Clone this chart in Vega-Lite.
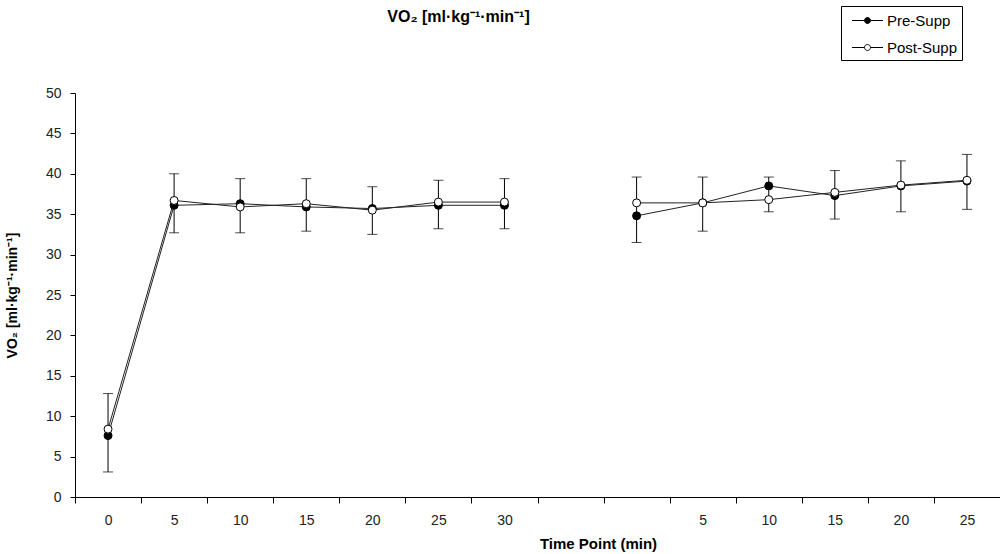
{
  "$schema": "https://vega.github.io/schema/vega-lite/v6.json",
  "width": 925,
  "height": 404,
  "autosize": {"type": "none"},
  "padding": {"left": 75, "top": 93, "right": 0, "bottom": 57},
  "background": "white",
  "config": {"view": {"stroke": null}, "font": "Liberation Sans"},
  "title": {
    "text": "VO₂ [ml·kg⁻¹·min⁻¹]",
    "font": "Liberation Sans",
    "fontSize": 16,
    "fontWeight": "bold",
    "color": "black",
    "anchor": "middle",
    "frame": "group",
    "dx": -79,
    "dy": 19,
    "offset": 0
  },
  "datasets": {
    "means": [
      {"series": "Pre-Supp", "idx": 0, "seg": 0, "v": 7.6},
      {"series": "Pre-Supp", "idx": 1, "seg": 0, "v": 36.1},
      {"series": "Pre-Supp", "idx": 2, "seg": 0, "v": 36.3},
      {"series": "Pre-Supp", "idx": 3, "seg": 0, "v": 35.9},
      {"series": "Pre-Supp", "idx": 4, "seg": 0, "v": 35.7},
      {"series": "Pre-Supp", "idx": 5, "seg": 0, "v": 36.1},
      {"series": "Pre-Supp", "idx": 6, "seg": 0, "v": 36.1},
      {"series": "Pre-Supp", "idx": 8, "seg": 1, "v": 34.8},
      {"series": "Pre-Supp", "idx": 9, "seg": 1, "v": 36.4},
      {"series": "Pre-Supp", "idx": 10, "seg": 1, "v": 38.5},
      {"series": "Pre-Supp", "idx": 11, "seg": 1, "v": 37.3},
      {"series": "Pre-Supp", "idx": 12, "seg": 1, "v": 38.5},
      {"series": "Pre-Supp", "idx": 13, "seg": 1, "v": 39.1},
      {"series": "Post-Supp", "idx": 0, "seg": 0, "v": 8.4},
      {"series": "Post-Supp", "idx": 1, "seg": 0, "v": 36.7},
      {"series": "Post-Supp", "idx": 2, "seg": 0, "v": 35.9},
      {"series": "Post-Supp", "idx": 3, "seg": 0, "v": 36.3},
      {"series": "Post-Supp", "idx": 4, "seg": 0, "v": 35.5},
      {"series": "Post-Supp", "idx": 5, "seg": 0, "v": 36.5},
      {"series": "Post-Supp", "idx": 6, "seg": 0, "v": 36.5},
      {"series": "Post-Supp", "idx": 8, "seg": 1, "v": 36.4},
      {"series": "Post-Supp", "idx": 9, "seg": 1, "v": 36.4},
      {"series": "Post-Supp", "idx": 10, "seg": 1, "v": 36.8},
      {"series": "Post-Supp", "idx": 11, "seg": 1, "v": 37.7},
      {"series": "Post-Supp", "idx": 12, "seg": 1, "v": 38.6},
      {"series": "Post-Supp", "idx": 13, "seg": 1, "v": 39.2}
    ],
    "err": [
      {"idx": 0, "lo": 3.1, "hi": 12.8},
      {"idx": 1, "lo": 32.7, "hi": 40.0},
      {"idx": 2, "lo": 32.7, "hi": 39.4},
      {"idx": 3, "lo": 32.9, "hi": 39.4},
      {"idx": 4, "lo": 32.5, "hi": 38.4},
      {"idx": 5, "lo": 33.2, "hi": 39.2},
      {"idx": 6, "lo": 33.2, "hi": 39.4},
      {"idx": 8, "lo": 31.5, "hi": 39.6},
      {"idx": 9, "lo": 32.9, "hi": 39.6},
      {"idx": 10, "lo": 35.3, "hi": 39.6},
      {"idx": 11, "lo": 34.4, "hi": 40.4},
      {"idx": 12, "lo": 35.3, "hi": 41.6},
      {"idx": 13, "lo": 35.6, "hi": 42.4}
    ]
  },
  "encoding": {
    "x": {
      "field": "idx",
      "type": "ordinal",
      "bandPosition": 0.5,
      "scale": {"type": "band", "domain": [0,1,2,3,4,5,6,7,8,9,10,11,12,13], "paddingInner": 0, "paddingOuter": 0},
      "axis": {
        "title": "Time Point (min)",
        "titleFont": "Liberation Sans",
        "titleFontSize": 15,
        "titleFontWeight": "bold",
        "titleColor": "black",
        "titleX": 523,
        "titleY": 46,
        "titleBaseline": "middle",
        "titleAnchor": null,
        "labelExpr": "['0','5','10','15','20','25','30','','','5','10','15','20','25'][datum.value]",
        "labelAngle": 0,
        "labelFont": "Liberation Sans",
        "labelFontSize": 14,
        "labelColor": "#222",
        "labelPadding": 10,
        "tickBand": "extent",
        "tickSize": 6,
        "tickColor": "black",
        "domainColor": "black",
        "grid": false
      }
    }
  },
  "layer": [
    {
      "data": {"name": "err"},
      "mark": {"type": "rule", "color": "black", "strokeWidth": 1},
      "encoding": {
        "y": {"field": "lo", "type": "quantitative"},
        "y2": {"field": "hi"}
      }
    },
    {
      "data": {"name": "err"},
      "mark": {"type": "tick", "color": "black", "size": 10, "thickness": 1},
      "encoding": {
        "y": {"field": "lo", "type": "quantitative"}
      }
    },
    {
      "data": {"name": "err"},
      "mark": {"type": "tick", "color": "black", "size": 10, "thickness": 1},
      "encoding": {
        "y": {"field": "hi", "type": "quantitative"}
      }
    },
    {
      "data": {"name": "means"},
      "mark": {"type": "line", "color": "#222", "strokeWidth": 1},
      "encoding": {
        "y": {"field": "v", "type": "quantitative"},
        "detail": [{"field": "series"}, {"field": "seg"}]
      }
    },
    {
      "data": {"name": "means"},
      "mark": {"type": "point", "shape": "circle", "filled": true, "stroke": "black", "strokeWidth": 1, "size": 64, "opacity": 1},
      "encoding": {
        "y": {
          "field": "v",
          "type": "quantitative",
          "scale": {"domain": [0, 50], "nice": false},
          "axis": {
            "title": "VO₂ [ml·kg⁻¹·min⁻¹]",
            "titleFont": "Liberation Sans",
            "titleFontSize": 14,
            "titleFontWeight": "bold",
            "titleColor": "black",
            "titlePadding": 26,
            "values": [0,5,10,15,20,25,30,35,40,45,50],
            "labelFont": "Liberation Sans",
            "labelFontSize": 14,
            "labelColor": "#222",
            "labelPadding": 9,
            "tickSize": 5,
            "tickColor": "black",
            "domainColor": "black",
            "grid": false
          }
        },
        "fill": {
          "field": "series",
          "type": "nominal",
          "scale": {"domain": ["Pre-Supp", "Post-Supp"], "range": ["black", "white"]},
          "legend": {
            "title": null,
            "orient": "none",
            "legendX": 766,
            "legendY": -87,
            "padding": 4,
            "strokeColor": "black",
            "fillColor": "white",
            "symbolType": "M-1.55,0L-0.3,0M0.3,0L1.55,0M-0.3,0A0.3,0.3 0 1,1 0.3,0A0.3,0.3 0 1,1 -0.3,0Z",
            "symbolSize": 400,
            "symbolOffset": 12,
            "symbolStrokeColor": "black",
            "symbolStrokeWidth": 1,
            "symbolOpacity": 1,
            "labelFont": "Liberation Sans",
            "labelFontSize": 15,
            "labelColor": "black",
            "labelOffset": 9,
            "rowPadding": 8
          }
        }
      }
    }
  ]
}
